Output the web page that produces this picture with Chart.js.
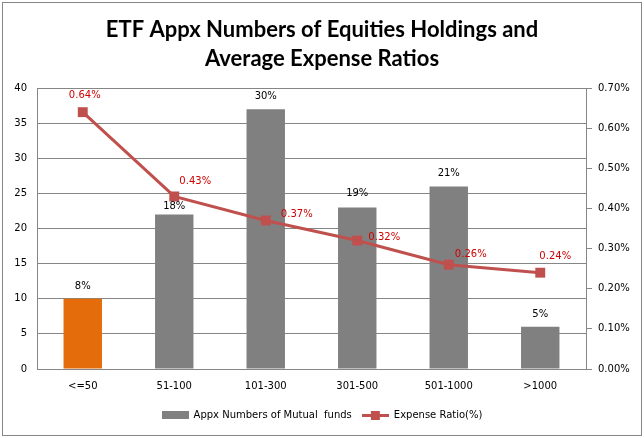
<!DOCTYPE html>
<html>
<head>
<meta charset="utf-8">
<script src="https://cdn.jsdelivr.net/npm/chart.js@4/dist/chart.umd.min.js"></script>
<style>
  html, body { margin: 0; padding: 0; background: #fff; }
  #wrap { width: 644px; height: 438px; }
</style>
</head>
<body>
<div id="wrap"><canvas id="etfChart"></canvas></div>
<script>
  // données
  const categories = ['<=50', '51-100', '101-300', '301-500', '501-1000', '>1000'];
  const fundCounts = [10, 22, 37, 23, 26, 6];
  const fundShares = ['8%', '18%', '30%', '19%', '21%', '5%'];
  const expenseRatios = [0.64, 0.43, 0.37, 0.32, 0.26, 0.24];
  const leftTicks = { min: 0, max: 40, step: 5 };
  const rightTicks = { min: 0, max: 0.7, step: 0.1 };

  const colors = {
    bar: '#808080',
    barFirst: '#E46C0A',
    line: '#C0504D',
    lineLabel: '#D00000',
    grid: '#868686',
    text: '#000000'
  };

  // décalage des étiquettes (placées à la main dans l'original)
  const barLabelOffsets = [12, 8, 13, 14, 13, 12];
  const lineLabelOffsets = [[2, -17], [21, -15], [31, -6], [27, -3], [22, -10], [15, -16]];

  const tickFont = { family: "'DejaVu Sans', Verdana, sans-serif", size: 10 };

  function legendIcon(kind) {
    const c = document.createElement('canvas');
    c.width = 27; c.height = 10;
    const g = c.getContext('2d');
    if (kind === 'bar') {
      g.fillStyle = colors.bar;
      g.fillRect(0, 1, 27, 8);
    } else {
      g.fillStyle = colors.line;
      g.fillRect(0, 4, 27, 3);
      g.fillRect(9, 1, 9, 9);
    }
    return c;
  }

  const labelsPlugin = {
    id: 'valueLabels',
    afterDatasetsDraw(chart) {
      const ctx = chart.ctx;
      ctx.save();
      ctx.font = "10px 'DejaVu Sans', Verdana, sans-serif";
      ctx.textAlign = 'center';
      ctx.textBaseline = 'middle';
      const bars = chart.getDatasetMeta(0).data;
      ctx.fillStyle = colors.text;
      bars.forEach((b, i) => ctx.fillText(fundShares[i], b.x, b.y - barLabelOffsets[i]));
      const pts = chart.getDatasetMeta(1).data;
      ctx.fillStyle = colors.lineLabel;
      pts.forEach((p, i) => {
        const o = lineLabelOffsets[i];
        ctx.fillText(expenseRatios[i].toFixed(2) + '%', p.x + o[0], p.y + o[1]);
      });
      ctx.restore();
    }
  };

  const borderPlugin = {
    id: 'outerBorder',
    afterDraw(chart) {
      const ctx = chart.ctx;
      ctx.save();
      ctx.strokeStyle = '#868686';
      ctx.lineWidth = 1;
      ctx.strokeRect(2.5, 2.5, 639, 433);
      ctx.restore();
    }
  };

  new Chart(document.getElementById('etfChart'), {
    data: {
      labels: categories,
      datasets: [
        {
          type: 'bar',
          label: 'Appx Numbers of Mutual  funds',
          data: fundCounts,
          backgroundColor: fundCounts.map((v, i) => i === 0 ? colors.barFirst : colors.bar),
          yAxisID: 'y',
          order: 1,
          categoryPercentage: 1,
          barPercentage: 0.42
        },
        {
          type: 'line',
          label: 'Expense Ratio(%)',
          data: expenseRatios,
          borderColor: colors.line,
          backgroundColor: colors.line,
          borderWidth: 3,
          pointStyle: 'rect',
          pointRadius: 7,
          pointBorderWidth: 0,
          tension: 0,
          yAxisID: 'y1',
          order: 0
        }
      ]
    },
    options: {
      responsive: true,
      maintainAspectRatio: false,
      animation: false,
      layout: { padding: { top: 4, left: 0, right: 0, bottom: 8 } },
      plugins: {
        title: {
          display: true,
          text: ['ETF Appx Numbers of Equities Holdings and', 'Average Expense Ratios'],
          color: colors.text,
          font: { family: "Lato, 'Open Sans', sans-serif", size: 22, weight: 'bold', lineHeight: 1.32 },
          padding: { top: 11, bottom: 15 }
        },
        legend: {
          position: 'bottom',
          labels: {
            color: colors.text,
            font: tickFont,
            usePointStyle: true,
            pointStyleWidth: 27,
            padding: 10,
            generateLabels() {
              return [
                { text: 'Appx Numbers of Mutual  funds', pointStyle: legendIcon('bar'), datasetIndex: 0, lineWidth: 0, fontColor: colors.text },
                { text: 'Expense Ratio(%)', pointStyle: legendIcon('line'), datasetIndex: 1, lineWidth: 0, fontColor: colors.text }
              ];
            }
          }
        },
        tooltip: { enabled: false }
      },
      scales: {
        x: {
          grid: { display: false, drawTicks: false },
          border: { color: colors.grid },
          ticks: { color: colors.text, font: tickFont, padding: 11 },
          afterFit(scale) { scale.height = 31; }
        },
        y: {
          position: 'left',
          min: leftTicks.min,
          max: leftTicks.max,
          ticks: { stepSize: leftTicks.step, color: colors.text, font: tickFont, padding: 10 },
          grid: { color: colors.grid, drawTicks: false },
          border: { color: colors.grid },
          afterFit(scale) { scale.width = 37; }
        },
        y1: {
          position: 'right',
          min: rightTicks.min,
          max: rightTicks.max,
          ticks: {
            stepSize: rightTicks.step,
            color: colors.text,
            font: tickFont,
            padding: 6,
            callback: v => v.toFixed(2) + '%'
          },
          grid: { drawOnChartArea: false, color: colors.grid, tickLength: 6 },
          border: { color: colors.grid },
          afterFit(scale) { scale.width = 58; }
        }
      }
    },
    plugins: [labelsPlugin, borderPlugin]
  });
</script>
</body>
</html>
